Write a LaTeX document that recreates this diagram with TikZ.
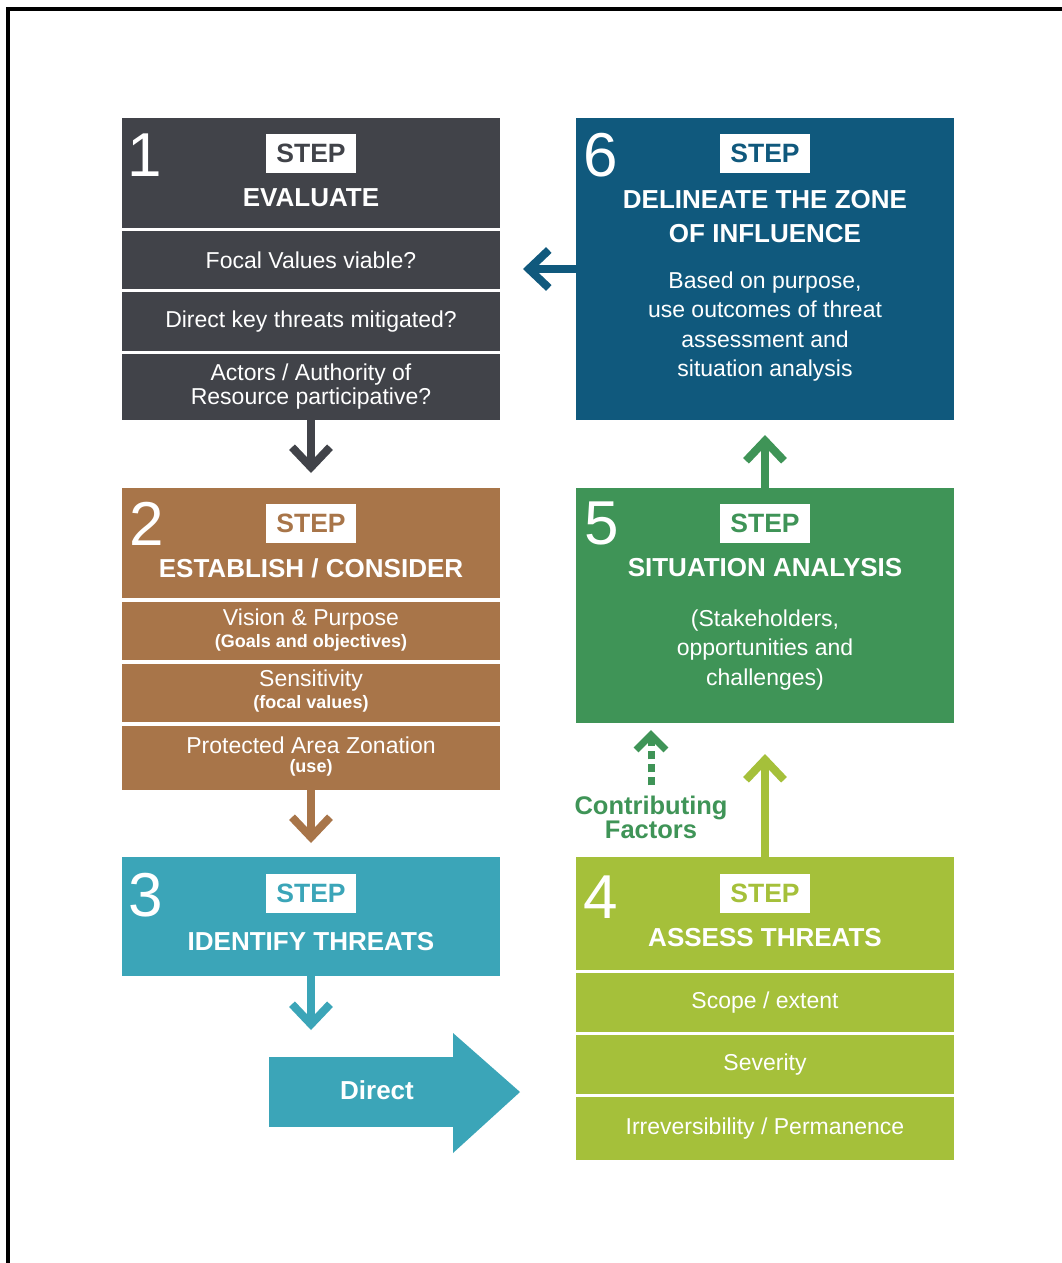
\documentclass[tikz,border=0pt]{standalone}
\usepackage{fontspec}
\setmainfont{Liberation Sans}
\usetikzlibrary{arrows.meta}
\definecolor{cgray}{HTML}{414349}
\definecolor{cblue}{HTML}{10597D}
\definecolor{cbrown}{HTML}{A87549}
\definecolor{cteal}{HTML}{3BA5B8}
\definecolor{cgreen}{HTML}{3F9457}
\definecolor{clime}{HTML}{A5C03A}
\begin{document}
\begin{tikzpicture}[x=1pt,y=-1pt,
 blk/.style={anchor=north west, inner sep=0pt, outer sep=0pt, minimum width=378pt},
 num/.style={text=white, inner sep=0pt, font=\fontsize{62}{62}\selectfont},
 stepbox/.style={fill=white, minimum width=90pt, minimum height=39pt, inner sep=0pt, font=\bfseries\fontsize{26.5}{26.5}\selectfont},
 ttl/.style={text=white, inner sep=0pt, align=center, font=\bfseries\fontsize{26}{34}\selectfont},
 body/.style={text=white, inner sep=0pt, align=center, font=\fontsize{23}{29.5}\selectfont},
 sub/.style={text=white, inner sep=0pt, font=\bfseries\fontsize{18}{20}\selectfont},
 conn/.style={line width=8pt, -{Straight Barb[length=20pt,width=38pt]}},
]
\useasboundingbox (0,0) rectangle (1061,1263);
\fill[white] (0,0) rectangle (1061,1263);
\draw[line width=4pt] (8,1270) -- (8,9) -- (1070,9);

% ---------- Step 1
\node[blk, fill=cgray, minimum height=110pt] (h1) at (122,118) {};
\node[num] (n1) at (145,155) {1};
\node[stepbox, text=cgray] (s1) at (311,153.5) {STEP};
\node[ttl] (t1) at (311,198) {EVALUATE};
\node[blk, fill=cgray, minimum height=58pt, body] (r11) at (122,231) {Focal Values viable?};
\node[blk, fill=cgray, minimum height=59pt, body] (r12) at (122,292) {Direct key threats mitigated?};
\node[blk, fill=cgray, minimum height=66pt, body, font=\fontsize{23}{24}\selectfont] (r13) at (122,354) {Actors / Authority of\\Resource participative?};

% ---------- Step 2
\node[blk, fill=cbrown, minimum height=110pt] (h2) at (122,488) {};
\node[num] (n2) at (147,524) {2};
\node[stepbox, text=cbrown] (s2) at (311,523) {STEP};
\node[ttl] (t2) at (311,568) {ESTABLISH / CONSIDER};
\node[blk, fill=cbrown, minimum height=58pt] (r21) at (122,602) {};
\node[blk, fill=cbrown, minimum height=58pt] (r22) at (122,664) {};
\node[blk, fill=cbrown, minimum height=64pt] (r23) at (122,726) {};
\node[body] (r21a) at (311,620) {Vision \& Purpose};
\node[sub] (r21b) at (311,643) {(Goals and objectives)};
\node[body] (r22a) at (311,681) {Sensitivity};
\node[sub] (r22b) at (311,704) {(focal values)};
\node[body] (r23a) at (311,745) {Protected Area Zonation};
\node[sub] (r23b) at (311,768) {(use)};

% ---------- Step 3
\node[blk, fill=cteal, minimum height=119pt] (h3) at (122,857) {};
\node[num] (n3) at (146,895) {3};
\node[stepbox, text=cteal] (s3) at (311,893) {STEP};
\node[ttl] (t3) at (311,942) {IDENTIFY THREATS};

% ---------- Direct arrow
\node[anchor=north west, fill=cteal, inner sep=0pt, outer sep=0pt, minimum width=185pt, minimum height=70pt] (direct) at (269,1057) {};
\fill[cteal] ([xshift=-1pt]direct.north east) -- ++(0,-24) -- (520,1092) -- (453,1153) -- ++(0,-26) -- ([xshift=-1pt]direct.south east) -- cycle;
\node[text=white, inner sep=0pt, font=\bfseries\fontsize{26}{26}\selectfont] (dt) at (377,1090) {Direct};

% ---------- Step 4
\node[blk, fill=clime, minimum height=113pt] (h4) at (576,857) {};
\node[num] (n4) at (601,897) {4};
\node[stepbox, text=clime] (s4) at (765,893) {STEP};
\node[ttl] (t4) at (765,938) {ASSESS THREATS};
\node[blk, fill=clime, minimum height=59pt, body] (r41) at (576,973) {Scope / extent};
\node[blk, fill=clime, minimum height=59pt, body] (r42) at (576,1035) {Severity};
\node[blk, fill=clime, minimum height=63pt, body] (r43) at (576,1097) {Irreversibility / Permanence};

% ---------- Step 5
\node[blk, fill=cgreen, minimum height=235pt] (h5) at (576,488) {};
\node[num] (n5) at (602,523) {5};
\node[stepbox, text=cgreen] (s5) at (765,523) {STEP};
\node[ttl] (t5) at (765,568) {SITUATION ANALYSIS};
\node[body] (b5) at (765,650) {(Stakeholders,\\opportunities and\\challenges)};

% ---------- Step 6
\node[blk, fill=cblue, minimum height=302pt] (h6) at (576,118) {};
\node[num] (n6) at (601,155) {6};
\node[stepbox, text=cblue] (s6) at (765,153.5) {STEP};
\node[ttl] (t6) at (765,216.5) {DELINEATE THE ZONE\\OF INFLUENCE};
\node[body] (b6) at (765,326.5) {Based on purpose,\\use outcomes of threat\\assessment and\\situation analysis};

% ---------- Contributing factors
\node[text=cgreen, inner sep=0pt, align=center, font=\bfseries\fontsize{25.5}{22}\selectfont] (cf) at (651,817) {Contributing\\Factors};

% ---------- Connectors
\draw[conn, cgray, shorten >=15pt] (r13.south) -- (h2.north);
\draw[conn, cbrown, shorten >=14pt] (r23.south) -- (h3.north);
\draw[conn, cteal, shorten >=27pt] (h3.south) -- (h3.south |- direct.north);
\draw[conn, clime, shorten >=31pt] (h4.north) -- (h5.south);
\draw[conn, cgreen, shorten >=15pt] (h5.north) -- (h6.south);
\draw[conn, cblue, shorten >=23pt] (h6.west) -- (h6.west -| h1.east);
\draw[line width=7pt, cgreen, dash pattern=on 8pt off 5pt, -{Straight Barb[length=15pt,width=30pt]}, shorten <=10pt, shorten >=7pt] (cf.north) -- (cf.north |- h5.south);
\end{tikzpicture}
\end{document}
